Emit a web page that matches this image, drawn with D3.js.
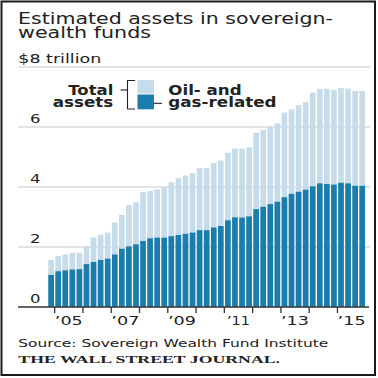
<!DOCTYPE html>
<html><head><meta charset="utf-8">
<script src="https://cdn.jsdelivr.net/npm/d3@7"></script>
<style>html,body{margin:0;padding:0;background:#fff;}svg{display:block;}</style>
</head><body>
<script>
const quarters = ["2004Q4","2005Q1","2005Q2","2005Q3","2005Q4","2006Q1","2006Q2","2006Q3","2006Q4",
"2007Q1","2007Q2","2007Q3","2007Q4","2008Q1","2008Q2","2008Q3","2008Q4","2009Q1","2009Q2","2009Q3","2009Q4",
"2010Q1","2010Q2","2010Q3","2010Q4","2011Q1","2011Q2","2011Q3","2011Q4","2012Q1","2012Q2","2012Q3","2012Q4",
"2013Q1","2013Q2","2013Q3","2013Q4","2014Q1","2014Q2","2014Q3","2014Q4","2015Q1","2015Q2","2015Q3","2015Q4"];
const totalAssets = [1.57,1.70,1.75,1.80,1.81,2.02,2.32,2.41,2.48,2.82,3.07,3.40,3.49,3.83,3.87,3.92,4.00,4.16,4.29,4.38,4.46,4.63,4.63,4.80,4.88,5.14,5.28,5.28,5.32,5.81,5.90,6.01,6.12,6.48,6.59,6.73,6.83,7.14,7.27,7.27,7.23,7.30,7.28,7.20,7.20];
const oilGas = [1.07,1.19,1.22,1.25,1.26,1.43,1.50,1.57,1.61,1.75,1.94,2.02,2.09,2.20,2.29,2.31,2.31,2.36,2.40,2.44,2.48,2.56,2.56,2.65,2.70,2.89,2.99,2.98,3.02,3.26,3.34,3.43,3.51,3.66,3.77,3.84,3.91,4.02,4.12,4.10,4.08,4.14,4.12,4.04,4.04];
const yTicks = [0,2,4,6];
const yearTicks = [2005,2006,2007,2008,2009,2010,2011,2012,2013,2014,2015];
const yearLabels = ["\u201905","\u201907","\u201909","\u201911","\u201913","\u201915"];
const labelYears = [2005,2007,2009,2011,2013,2015];

const W = 378, H = 378;
const svg = d3.select("body").append("svg").attr("width", W).attr("height", H);
const sans = "DejaVu Sans, sans-serif";
const ink = "#222";
const lightC = "#c6dcea", darkC = "#1a7dab";

svg.append("rect").attr("x",1.5).attr("y",1.5).attr("width",373.5).attr("height",373.5)
  .attr("fill","#fff").attr("stroke","#1a1a1a").attr("stroke-width",2);

function txt(s, x, y, size, len, opts={}) {
  const t = svg.append("text").attr("x",x).attr("y",y).text(s)
    .attr("font-family", opts.family || sans).attr("font-size", size)
    .attr("font-weight", opts.weight || "normal").attr("fill", ink)
    .attr("text-anchor", opts.anchor || "start");
  if (len) t.attr("textLength", len).attr("lengthAdjust","spacingAndGlyphs");
  return t;
}

// Title
txt("Estimated assets in sovereign-", 18, 23.5, 15.5, 315);
txt("wealth funds", 18, 37.5, 15.5, 133);
txt("$8 trillion", 18.3, 63, 12.5, 83);

const x = d3.scaleBand().domain(quarters).range([47.59, 365.74]).paddingInner(0.2).paddingOuter(0.1);
const y = d3.scaleLinear().domain([0,8]).range([307,67]);

// gridlines
svg.append("g").selectAll("line").data([2,4,6,8]).join("line")
  .attr("x1",18).attr("x2",370).attr("y1",d=>y(d)).attr("y2",d=>y(d))
  .attr("stroke","#c8c8c8").attr("stroke-width",1);

// y tick labels
yTicks.forEach(v => txt(String(v), 30, y(v)-4, 12.5, 10.5));

// bars
svg.append("g").selectAll("rect").data(quarters).join("rect")
  .attr("x", d=>x(d)).attr("width", x.bandwidth())
  .attr("y", (d,i)=>y(totalAssets[i])).attr("height", (d,i)=>y(0)-y(totalAssets[i]))
  .attr("fill", lightC);
svg.append("g").selectAll("rect").data(quarters).join("rect")
  .attr("x", d=>x(d)).attr("width", x.bandwidth())
  .attr("y", (d,i)=>y(oilGas[i])).attr("height", (d,i)=>y(0)-y(oilGas[i]))
  .attr("fill", darkC);

// axis line
svg.append("line").attr("x1",18).attr("x2",369).attr("y1",y(0)).attr("y2",y(0))
  .attr("stroke","#333").attr("stroke-width",1.5);

// year ticks at boundaries between Q4 and Q1
const gapHalf = x.step()*x.paddingInner()/2;
const yearX = yr => x(yr+"Q1") - gapHalf;
svg.append("g").selectAll("line").data(yearTicks).join("line")
  .attr("x1", d=>yearX(d)).attr("x2", d=>yearX(d)).attr("y1", y(0)).attr("y2", y(0)+6)
  .attr("stroke","#333").attr("stroke-width",1.3);
labelYears.forEach((yr,i) => {
  const cx = yearX(yr) + 2*x.step();
  txt(yearLabels[i], cx, 325, 12.5, yr===2011 ? 23 : 28, {anchor:"middle"});
});

// legend
txt("Total", 113.3, 95, 13.5, 45, {weight:"bold", anchor:"end"});
txt("assets", 113.3, 106.5, 13.5, 60.6, {weight:"bold", anchor:"end"});
txt("Oil- and", 168.3, 95, 13.5, 73.3, {weight:"bold"});
txt("gas-related", 168.3, 106.8, 13.5, 108.3, {weight:"bold"});
const lg = svg.append("g").attr("stroke", ink).attr("stroke-width",1.1).attr("fill","none");
lg.append("path").attr("d","M135,80.5 H127.5 V109 H135");
lg.append("line").attr("x1",120.5).attr("x2",127.5).attr("y1",90).attr("y2",90);
svg.append("rect").attr("x",137.5).attr("y",80).attr("width",16.5).attr("height",13.5).attr("fill",lightC);
svg.append("rect").attr("x",137.5).attr("y",94.5).attr("width",16.5).attr("height",14.8).attr("fill",darkC);
lg.append("line").attr("x1",150).attr("x2",162).attr("y1",103.3).attr("y2",103.3);

// source
txt("Source: Sovereign Wealth Fund Institute", 18.3, 346.7, 11, 310);
txt("THE WALL STREET JOURNAL.", 18.3, 363.3, 10.5, 261.7, {family:"Liberation Serif, DejaVu Serif, serif", weight:"bold"});
</script>
</body></html>
